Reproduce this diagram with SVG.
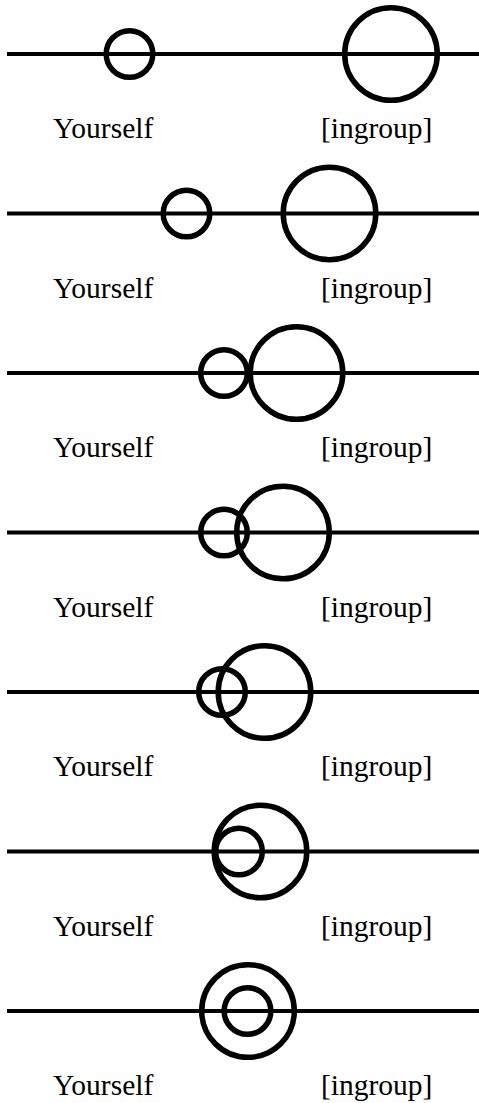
<svg xmlns="http://www.w3.org/2000/svg" width="479" height="1103" viewBox="0 0 479 1103">
<style>
.ln{stroke:#000;stroke-width:4;fill:none}
.c{stroke:#000;stroke-width:5.5;fill:none}
.s{r:23.3px}
text{font-family:'Liberation Serif','Times New Roman',Times,serif;font-size:29.5px;fill:#000}
</style>
<rect width="479" height="1103" fill="#fff"/>
<g id="connectors">
<line class="ln" x1="7" y1="54" x2="479" y2="54"/>
<line class="ln" x1="7" y1="213.5" x2="479" y2="213.5"/>
<line class="ln" x1="7" y1="373" x2="479" y2="373"/>
<line class="ln" x1="7" y1="532.5" x2="479" y2="532.5"/>
<line class="ln" x1="7" y1="692" x2="479" y2="692"/>
<line class="ln" x1="7" y1="851.5" x2="479" y2="851.5"/>
<line class="ln" x1="7" y1="1011" x2="479" y2="1011"/>
</g>
<g id="row1">
<circle class="c" cx="129.5" cy="54" r="23.3"/>
<circle class="c" cx="391" cy="54" r="46.3"/>
<text x="53" y="138" font-family="Liberation Serif, serif">Yourself</text>
<text x="321" y="138" font-family="Liberation Serif, serif">[ingroup]</text>
</g>
<g id="row2">
<circle class="c" cx="186.5" cy="213.5" r="23.3"/>
<circle class="c" cx="329.5" cy="213.5" r="46.3"/>
<text x="53" y="297.5" font-family="Liberation Serif, serif">Yourself</text>
<text x="321" y="297.5" font-family="Liberation Serif, serif">[ingroup]</text>
</g>
<g id="row3">
<circle class="c" cx="224" cy="373" r="23.3"/>
<circle class="c" cx="296.5" cy="373" r="46.3"/>
<text x="53" y="457" font-family="Liberation Serif, serif">Yourself</text>
<text x="321" y="457" font-family="Liberation Serif, serif">[ingroup]</text>
</g>
<g id="row4">
<circle class="c" cx="224" cy="532.5" r="23.3"/>
<circle class="c" cx="283" cy="532.5" r="46.3"/>
<text x="53" y="616.5" font-family="Liberation Serif, serif">Yourself</text>
<text x="321" y="616.5" font-family="Liberation Serif, serif">[ingroup]</text>
</g>
<g id="row5">
<circle class="c" cx="222" cy="692" r="23.3"/>
<circle class="c" cx="264.5" cy="692" r="46.3"/>
<text x="53" y="776" font-family="Liberation Serif, serif">Yourself</text>
<text x="321" y="776" font-family="Liberation Serif, serif">[ingroup]</text>
</g>
<g id="row6">
<circle class="c" cx="239" cy="851.5" r="23.3"/>
<circle class="c" cx="260.5" cy="851.5" r="46.3"/>
<text x="53" y="935.5" font-family="Liberation Serif, serif">Yourself</text>
<text x="321" y="935.5" font-family="Liberation Serif, serif">[ingroup]</text>
</g>
<g id="row7">
<circle class="c" cx="247.5" cy="1011" r="23.3"/>
<circle class="c" cx="248" cy="1011" r="46.3"/>
<text x="53" y="1095" font-family="Liberation Serif, serif">Yourself</text>
<text x="321" y="1095" font-family="Liberation Serif, serif">[ingroup]</text>
</g>
</svg>
